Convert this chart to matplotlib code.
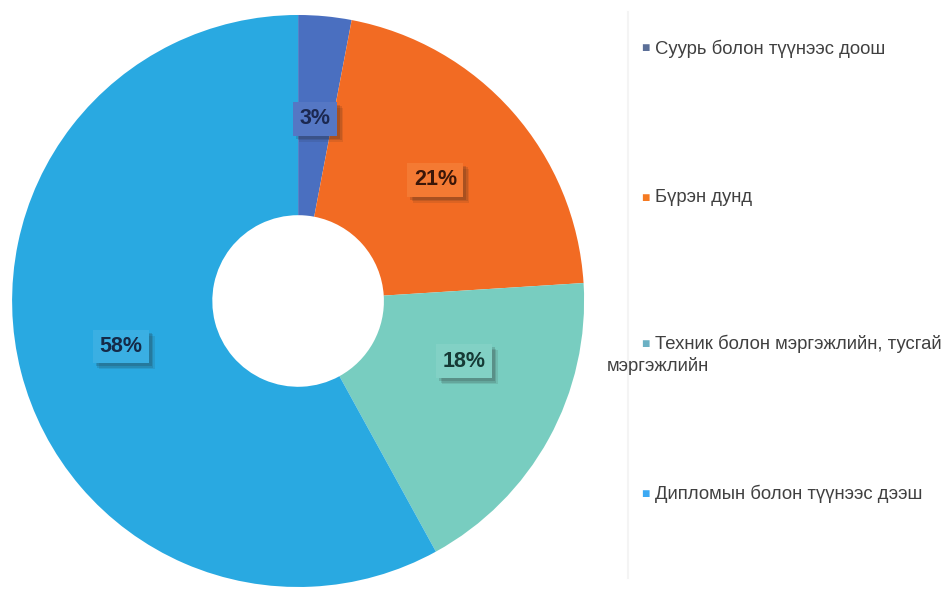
import matplotlib.pyplot as plt
from matplotlib.patches import Rectangle

# data
categories = ["Суурь болон түүнээс доош", "Бүрэн дунд",
              "Техник болон мэргэжлийн, тусгай\nмэргэжлийн", "Дипломын болон түүнээс дээш"]
values = [3, 21, 18, 58]
slice_colors = ["#4a6fc0", "#f26b23", "#78cdc0", "#29a9e1"]
box_colors = ["#5577c4", "#f47a33", "#82d1c5", "#3aafe3"]
legend_colors = ["#5b6f98", "#f57a22", "#6cb1c4", "#3ca9f3"]
label_colors = ["#1b2850", "#3a1608", "#163a36", "#152a48"]

plt.rcParams['font.family'] = ['Liberation Sans', 'DejaVu Sans']

fig = plt.figure(figsize=(9.41, 5.9), dpi=100)
ax = fig.add_axes([0.0128, 0.0051, 0.608, 0.9695])

wedges, texts, autotexts = ax.pie(values, colors=slice_colors, startangle=90, counterclock=False,
                                  radius=1, autopct='%d%%', pctdistance=0.64,
                                  wedgeprops=dict(width=0.7, edgecolor='none'))
ax.set_xlim(-1, 1)
ax.set_ylim(-1, 1)
ax.set_aspect('equal')

# nudge the 18% label like in the original
autotexts[2].set_position((0.58, -0.21))

for t, c, tc in zip(autotexts, box_colors, label_colors):
    t.set_fontsize(15.5)
    t.set_fontweight('bold')
    t.set_color(tc)
    t.set_zorder(4)
    t.set_bbox(dict(boxstyle='square,pad=0.3', facecolor=c, edgecolor='none'))

# soft shadow behind the label boxes (patches in pixel coords)
fig.canvas.draw()
for t in autotexts:
    bb = t.get_bbox_patch().get_window_extent()
    for k, a in [(6, 0.10), (4.5, 0.13), (3, 0.16)]:
        ax.add_artist(Rectangle((bb.x0 + k, bb.y0 - k), bb.width, bb.height, transform=None,
                                facecolor='#202020', alpha=a, edgecolor='none', zorder=3))

# legend on the right
ys = [0.918, 0.665, 0.417, 0.163]
for cat, col, y in zip(categories, legend_colors, ys):
    fig.text(0.681, y, "■", color=col, fontsize=10, va='center', ha='left')
    first = cat.split("\n")
    fig.text(0.696, y, first[0], color='#404040', fontsize=13.3, va='center', ha='left')
    if len(first) > 1:
        fig.text(0.645, y - 0.037, first[1], color='#404040', fontsize=13.3, va='center', ha='left')

fig.add_artist(plt.Line2D([0.667, 0.667], [0.02, 0.98], color='#f4f4f4', lw=1.5))

plt.savefig("out.png")
